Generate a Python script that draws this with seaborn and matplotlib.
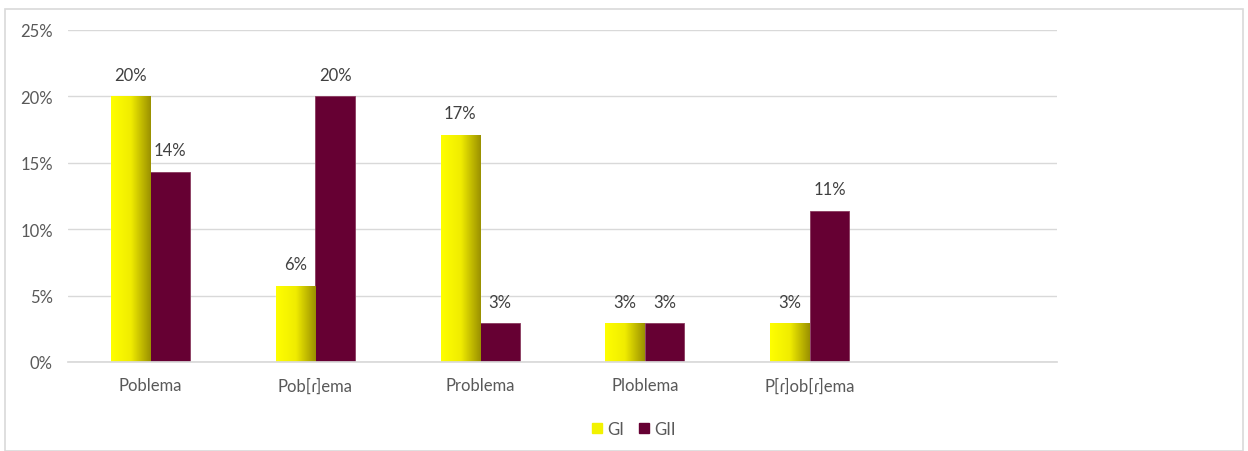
import numpy as np
import pandas as pd
import matplotlib
matplotlib.use("Agg")
import matplotlib.pyplot as plt
import seaborn as sns
from matplotlib.colors import LinearSegmentedColormap
from matplotlib.patches import Rectangle
from matplotlib.ticker import PercentFormatter

categories = ["Poblema", "Pob[ɾ]ema", "Problema", "Ploblema", "P[ɾ]ob[ɾ]ema"]
series_names = ["GI", "GII"]
gi_values = [0.200, 0.057, 0.171, 0.029, 0.029]
gii_values = [0.143, 0.200, 0.029, 0.029, 0.114]

df = pd.DataFrame({
    "cat": categories * 2,
    "grp": [series_names[0]] * len(categories) + [series_names[1]] * len(categories),
    "val": gi_values + gii_values,
})

sns.set_theme(style="white")
plt.rcParams["font.family"] = ["Lato", "DejaVu Sans"]

fig = plt.figure(figsize=(12.48, 4.52), dpi=100)
ax = fig.add_axes([68 / 1248, 1 - 363 / 452, (1057 - 68) / 1248, (363 - 31) / 452])

yellow = "#F2F200"
maroon = "#660033"
sns.barplot(data=df, x="cat", y="val", hue="grp", order=categories,
            hue_order=series_names, palette=[yellow, maroon], width=0.48,
            ax=ax, legend=False, saturation=1)

ax.set_xlim(-0.5, 5.5)
ax.set_ylim(0, 0.25)
ax.set_yticks(np.arange(0, 0.2501, 0.05))
ax.yaxis.set_major_formatter(PercentFormatter(1.0, decimals=0))
ax.grid(axis="y", color="#D9D9D9", linewidth=1)
ax.set_axisbelow(True)
for s in ["top", "right", "left"]:
    ax.spines[s].set_visible(False)
ax.spines["bottom"].set_color("#D9D9D9")
ax.tick_params(axis="both", length=0, colors="#595959", labelsize=12)
ax.tick_params(axis="x", pad=11)
ax.tick_params(axis="y", pad=11)
ax.set_xlabel("")
ax.set_ylabel("")

# gradient on GI bars
cmap = LinearSegmentedColormap.from_list("yg", ["#FFFF00", "#F0EC00", "#9A9000"])
grad = np.linspace(0, 1, 256).reshape(1, -1)
gi_container = ax.containers[0]
for bar in gi_container:
    x0 = bar.get_x()
    w = bar.get_width()
    h = bar.get_height()
    im = ax.imshow(grad, cmap=cmap, aspect="auto", extent=[x0, x0 + w, 0, h],
                   zorder=bar.get_zorder() + 0.1)
    im.set_clip_path(bar)
for bar in ax.containers[1]:
    bar.set_edgecolor("#8a3a5e")
    bar.set_linewidth(0.6)
ax.set_xlim(-0.5, 5.5)
ax.set_ylim(0, 0.25)

for cont in ax.containers:
    ax.bar_label(cont, labels=[f"{v:.0%}" for v in cont.datavalues],
                 padding=10, fontsize=12, color="#404040")

handles = [Rectangle((0, 0), 1, 1, color=yellow), Rectangle((0, 0), 1, 1, color=maroon)]
leg = fig.legend(handles, series_names, loc="center", bbox_to_anchor=(634 / 1248, 1 - 430 / 452),
                 ncol=2, frameon=False, fontsize=12, handlelength=0.6, handleheight=0.6,
                 handletextpad=0.3, columnspacing=0.9)
for t in leg.get_texts():
    t.set_color("#595959")

fig.patches.append(Rectangle((5 / 1248, 0), 1238 / 1248, 1 - 10 / 452 - 0.0,
                             transform=fig.transFigure, fill=False,
                             edgecolor="#D9D9D9", linewidth=1.2))

fig.savefig("out.png", dpi=100)
